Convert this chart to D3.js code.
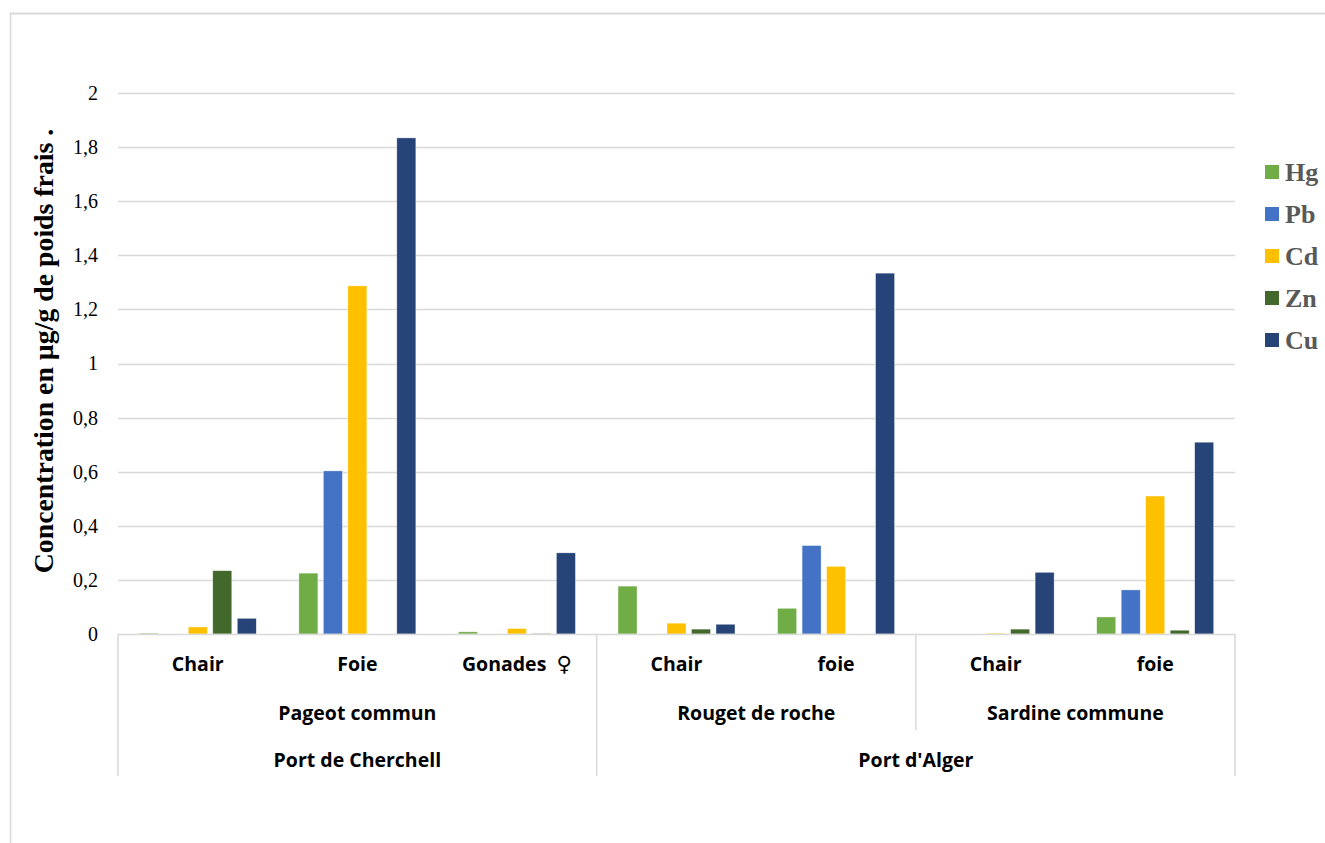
<!DOCTYPE html>
<html>
<head>
<meta charset="utf-8">
<script src="https://d3js.org/d3.v7.min.js"></script>
<style>
  body { margin: 0; background: #fff; }
  svg { display: block; }
</style>
</head>
<body>
<svg id="chart" width="1325" height="843"></svg>
<script>
// ---- data ----
const organs  = ["Chair", "Foie", "Gonades  \u2640", "Chair", "foie", "Chair", "foie"];
const species = ["Pageot commun", "Pageot commun", "Pageot commun", "Rouget de roche", "Rouget de roche", "Sardine commune", "Sardine commune"];
const ports   = ["Port de Cherchell", "Port de Cherchell", "Port de Cherchell", "Port d'Alger", "Port d'Alger", "Port d'Alger", "Port d'Alger"];
const seriesNames = ["Hg", "Pb", "Cd", "Zn", "Cu"];
const Hg = [0.003, 0.225, 0.008, 0.177, 0.095, 0,     0.063];
const Pb = [0,     0.603, 0,     0,     0.327, 0,     0.163];
const Cd = [0.026, 1.287, 0.020, 0.040, 0.250, 0.003, 0.510];
const Zn = [0.234, 0,     0.002, 0.018, 0,     0.018, 0.014];
const Cu = [0.058, 1.834, 0.300, 0.036, 1.334, 0.228, 0.709];
const yTicks = [0, 0.2, 0.4, 0.6, 0.8, 1, 1.2, 1.4, 1.6, 1.8, 2];
const colors = ["#70ad47", "#4472c4", "#ffc000", "#43682b", "#264478"];

(function () {
const seriesValues = [Hg, Pb, Cd, Zn, Cu];
const svg = d3.select("#chart");

// outer chart frame
svg.append("line").attr("x1", 10).attr("x2", 1325).attr("y1", 13.5).attr("y2", 13.5)
  .attr("stroke", "#d9d9d9").attr("stroke-width", 2);
svg.append("line").attr("x1", 10.5).attr("x2", 10.5).attr("y1", 13).attr("y2", 843)
  .attr("stroke", "#d9d9d9").attr("stroke-width", 1.5);

const mLeft = 118, mRight = 1235, mTop = 93, mBottom = 634;
const idx = organs.map((d, i) => i);
const x0 = d3.scaleBand().domain(idx).range([mLeft, mRight]).paddingInner(0).paddingOuter(0);
const x1 = d3.scaleBand().domain(seriesNames).range([0, x0.bandwidth()]).paddingInner(0.224).paddingOuter(0.87);
const y = d3.scaleLinear().domain([0, 2]).range([mBottom, mTop]);

// gridlines
svg.append("g").selectAll("line").data(yTicks.filter(t => t > 0)).join("line")
  .attr("x1", mLeft).attr("x2", mRight)
  .attr("y1", d => Math.round(y(d)) + 0.5).attr("y2", d => Math.round(y(d)) + 0.5)
  .attr("stroke", "#d9d9d9").attr("stroke-width", 1.3);

// y axis labels
const fmt = d => String(d).replace(".", ",");
const yAxis = d3.axisLeft(y).tickValues(yTicks).tickFormat(fmt).tickSize(0).tickPadding(0);
const yg = svg.append("g").attr("transform", `translate(${mLeft - 20},0)`).call(yAxis);
yg.select(".domain").remove();
yg.selectAll("text").attr("font-family", "'Liberation Serif', 'Times New Roman', serif")
  .attr("font-size", 20).attr("fill", "#000");

// y title
svg.append("text")
  .attr("transform", `translate(53, 351) rotate(-90)`)
  .attr("text-anchor", "middle")
  .attr("font-family", "'Liberation Serif', 'Times New Roman', serif")
  .attr("font-weight", "bold").attr("font-size", 27.8).attr("fill", "#000")
  .text("Concentration en \u00b5g/g de poids frais .");

// bars
const data = [];
idx.forEach(i => seriesNames.forEach((s, j) => data.push({ i, s, j, v: seriesValues[j][i] })));
svg.append("g").selectAll("rect").data(data).join("rect")
  .attr("x", d => x0(d.i) + x1(d.s))
  .attr("width", x1.bandwidth())
  .attr("y", d => y(d.v))
  .attr("height", d => y(0) - y(d.v))
  .attr("fill", d => colors[d.j])
  .attr("stroke", "#ffffff").attr("stroke-width", 0.6).attr("stroke-opacity", 0.6);

// category axis
const axisColor = "#d9d9d9";
const ax = svg.append("g");
ax.append("line").attr("x1", mLeft).attr("x2", mRight).attr("y1", mBottom + 0.5).attr("y2", mBottom + 0.5)
  .attr("stroke", axisColor).attr("stroke-width", 1.5);
function groups(arr) {
  const out = [];
  arr.forEach((d, i) => {
    if (i === 0 || arr[i - 1] !== d) out.push({ name: d, start: i, end: i });
    else out[out.length - 1].end = i;
  });
  return out;
}
const portGroups = groups(ports);
const speciesGroups = groups(species);
const yBottomFull = 776, yBottomSpecies = 730;
[mLeft, mRight].forEach(xv => ax.append("line").attr("x1", xv).attr("x2", xv)
  .attr("y1", mBottom).attr("y2", yBottomFull).attr("stroke", axisColor).attr("stroke-width", 1.5));
portGroups.slice(1).forEach(g => {
  const xv = x0(g.start);
  ax.append("line").attr("x1", xv).attr("x2", xv).attr("y1", mBottom).attr("y2", yBottomFull)
    .attr("stroke", axisColor).attr("stroke-width", 1.5);
});
speciesGroups.slice(1).forEach(g => {
  if (ports[g.start] !== ports[g.start - 1]) return;
  const xv = x0(g.start);
  ax.append("line").attr("x1", xv).attr("x2", xv).attr("y1", mBottom).attr("y2", yBottomSpecies)
    .attr("stroke", axisColor).attr("stroke-width", 1.5);
});

const catFont = "'Open Sans', Lato, sans-serif";
const catSize = 19.5;
const organText = ax.selectAll("text.organ").data(idx).join("text").attr("class", "organ")
  .attr("x", i => x0(i) + x0.bandwidth() / 2).attr("y", 671)
  .attr("text-anchor", "middle").attr("font-family", catFont).attr("font-weight", "bold")
  .attr("font-size", catSize).attr("fill", "#000")
  .style("white-space", "pre");
organText.each(function (i) {
  const t = d3.select(this);
  const label = organs[i];
  const k = label.indexOf("\u2640");
  if (k < 0) { t.text(label); return; }
  t.append("tspan").text(label.slice(0, k));
  t.append("tspan").attr("font-family", "'DejaVu Sans', sans-serif").attr("font-size", 21).text("\u2640");
});
ax.selectAll("text.species").data(speciesGroups).join("text").attr("class", "species")
  .attr("x", g => (x0(g.start) + x0(g.end) + x0.bandwidth()) / 2).attr("y", 720)
  .attr("text-anchor", "middle").attr("font-family", catFont).attr("font-weight", "bold")
  .attr("font-size", catSize).attr("fill", "#000").text(g => g.name);
ax.selectAll("text.port").data(portGroups).join("text").attr("class", "port")
  .attr("x", g => (x0(g.start) + x0(g.end) + x0.bandwidth()) / 2).attr("y", 767)
  .attr("text-anchor", "middle").attr("font-family", catFont).attr("font-weight", "bold")
  .attr("font-size", catSize).attr("fill", "#000").text(g => g.name);

// legend
const lg = svg.append("g").attr("transform", "translate(1265,165)");
seriesNames.forEach((s, j) => {
  const row = lg.append("g").attr("transform", `translate(0,${j * 42})`);
  row.append("rect").attr("width", 14).attr("height", 14).attr("fill", colors[j]);
  row.append("text").attr("x", 20).attr("y", 16)
    .attr("font-family", "'Liberation Serif', 'Times New Roman', serif")
    .attr("font-weight", "bold").attr("font-size", 26).attr("fill", "#595959").text(s);
});
})();
</script>
</body>
</html>
